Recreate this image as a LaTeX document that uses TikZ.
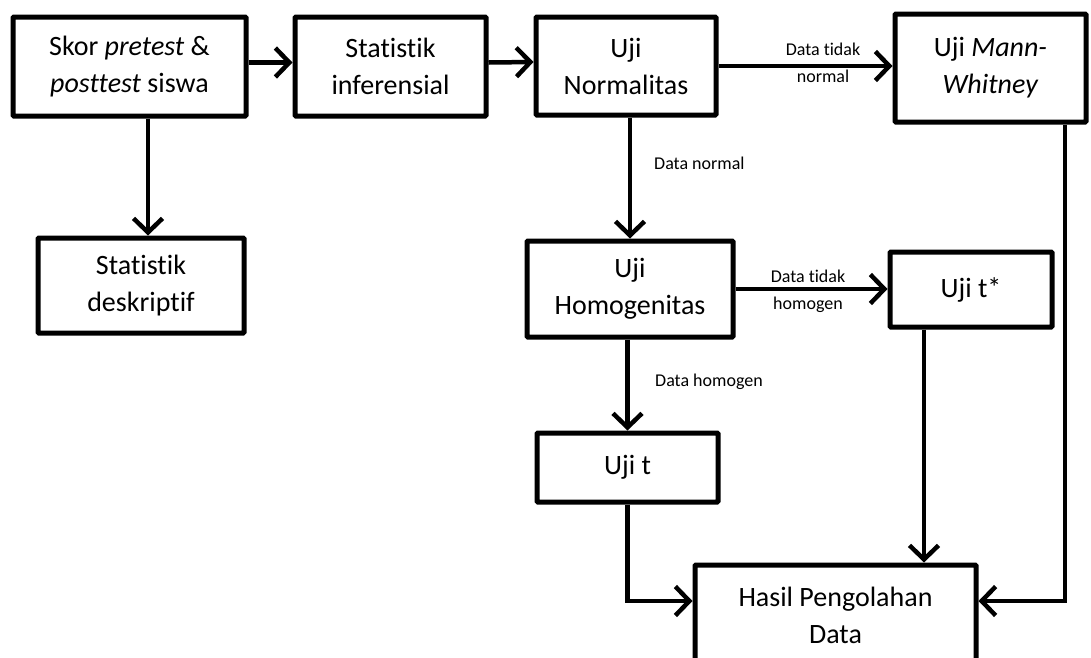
\documentclass[tikz,border=0pt]{standalone}
\usepackage{fontspec}
\setmainfont{Carlito}[Ligatures=NoCommon]
\usetikzlibrary{arrows.meta}
\definecolor{flowInk}{HTML}{000000}
\tikzset{
  flow diagram/.style={
    x=1pt, y=-1pt,
    >={Straight Barb[length=14pt,width=29pt]},
    every node/.style={font=\fontsize{28}{37}\selectfont,
      text=flowInk, align=center, inner sep=0pt}
  },
  flow box/.style={draw=flowInk, line width=5pt, rounded corners=1pt, fill=white},
  flow arrow/.style={->, draw=flowInk, line width=4.5pt},
  flow note/.style={font=\fontsize{18}{27}\selectfont}
}

\begin{document}
\begin{tikzpicture}[flow diagram]
    \clip (0,0) rectangle (1091,657);
    % boxes
    \node[flow box, minimum width=233pt, minimum height=99pt] (skor) at (129.5,66.5)
      {Skor \textit{pretest} \&\\\textit{posttest} siswa};
    \node[flow box, minimum width=191pt, minimum height=99pt] (infer) at (390.5,66.5)
      {Statistik\\inferensial};
    \node[flow box, minimum width=180pt, minimum height=98pt] (normal) at (626,66)
      {Uji\\Normalitas};
    \node[flow box, minimum width=191pt, minimum height=108pt] (mann) at (990.5,68)
      {Uji \textit{Mann-}\\\textit{Whitney}};
    \node[flow box, minimum width=206pt, minimum height=95pt] (deskrip) at (141,285.5)
      {Statistik\\deskriptif};
    \node[flow box, minimum width=206pt, minimum height=96pt] (homog) at (630,289)
      {Uji\\Homogenitas};
    \node[flow box, minimum width=162pt, minimum height=75pt] (ujitstar) at (971,289.5)
      {Uji t*};
    \node[flow box, minimum width=181pt, minimum height=69pt] (ujit) at (627.5,467.5)
      {Uji t};
    \node[flow box, minimum width=281pt, minimum height=100pt] (hasil) at (835.5,615)
      {Hasil Pengolahan\\Data};
    % labels
    \node[flow note] (lblNotNormal) at (823,63) {Data tidak\\normal};
    \node[flow note, anchor=west] (lblNormal) at (654,163) {Data normal};
    \node[flow note] (lblNotHomog) at (808,291) {Data tidak\\homogen};
    \node[flow note, anchor=west] (lblHomog) at (655,382) {Data homogen};
    % connectors
    \coordinate (hasilIn) at ([yshift=14pt]hasil.west);
    \coordinate (hasilInR) at ([yshift=14pt]hasil.east);
    \draw[flow arrow] ([yshift=4pt]skor.east) -- ([yshift=4pt]infer.west);
    \draw[flow arrow] ([yshift=4pt]infer.east) -- ([yshift=4pt]normal.west);
    \draw[flow arrow] (normal.east) -- (normal.east -| mann.west);
    \draw[flow arrow] ([xshift=18.5pt]skor.south) -- ([xshift=18.5pt]skor.south |- deskrip.north);
    \draw[flow arrow] (normal.south -| homog.north) -- (homog.north);
    \draw[flow arrow] (homog.east) -- (homog.east -| ujitstar.west);
    \draw[flow arrow] (homog.south -| ujit.north) -- (ujit.north);
    \draw[flow arrow] ([xshift=-47pt]ujitstar.south) -- ([xshift=-47pt]ujitstar.south |- hasil.north);
    \draw[flow arrow] (ujit.south) |- (hasilIn);
    \draw[flow arrow] ([xshift=74.5pt]mann.south) |- (hasilInR);
  \end{tikzpicture}
\end{document}
